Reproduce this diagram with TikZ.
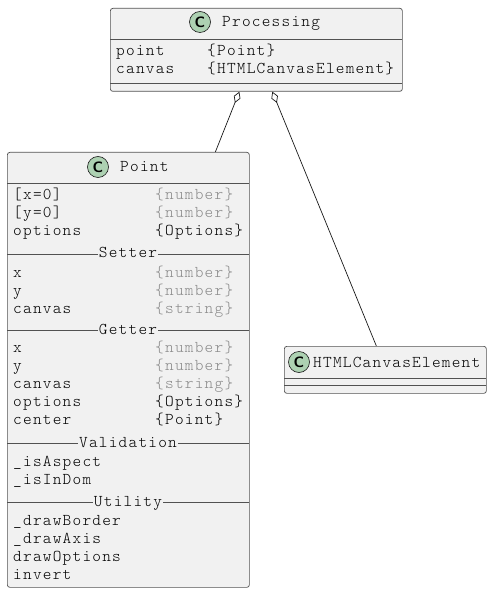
\documentclass[tikz,border=0pt]{standalone}
\usepackage{fontspec}
\usetikzlibrary{arrows.meta}

\newfontfamily\umlmono{lmmonolt10-regular.otf}[LetterSpace=7.5]

\definecolor{boxfill}{HTML}{F1F1F1}
\definecolor{boxline}{HTML}{181818}
\definecolor{badgefill}{HTML}{ADD1B2}
\definecolor{typegray}{HTML}{8A8A8A}

\newcommand\umlfont{\umlmono\fontsize{16.5}{18}\selectfont}

\tikzset{
  cls/.style={draw=boxline!75, fill=boxfill, rounded corners=2.5pt, line width=0.7pt,
    inner sep=0pt, anchor=north west},
  sep/.style={draw=boxline!75, line width=0.7pt},
  txt/.style={anchor=base west, inner sep=0pt, font=\umlfont, text=black},
  typ/.style={txt, text=typegray},
  sect/.style={anchor=base, inner sep=1.2pt, fill=boxfill, font=\umlfont},
  badge/.style={circle, draw=boxline, fill=badgefill, minimum size=21pt, inner sep=0pt,
    line width=0.6pt, font=\fontsize{15}{15}\selectfont\sffamily\bfseries},
  agg/.style={{Diamond[fill=white,length=12pt,width=7pt]}-, draw=boxline, line width=0.7pt},
}

\begin{document}
\begin{tikzpicture}[x=1pt,y=-1pt]
\useasboundingbox (0,0) rectangle (492,593);

% ---- class Processing ----
\node[cls, minimum width=292pt, minimum height=83pt] (proc) at (110,8) {};
\draw[sep] (110,39) -- (402,39);
\draw[sep] (110,83) -- (402,83);
\node[badge] (procbadge) at (200,22) {C};
\node[txt] (proctitle) at (222,27) {Processing};
\node[txt] (pa1) at (116,56) {point};
\node[txt] (pt1) at (207,56) {\{Point\}};
\node[txt] (pa2) at (116,74) {canvas};
\node[txt] (pt2) at (207,74) {\{HTMLCanvasElement\}};

% ---- class Point ----
\node[cls, minimum width=242pt, minimum height=435pt] (point) at (7,152) {};
\node[badge] (pointbadge) at (98,167) {C};
\node[txt] (pointtitle) at (120,172) {Point};
\draw[sep] (7,183) -- (249,183);
% constructor
\node[txt] (c1) at (13,200) {[x=0]};
\node[typ] (c1t) at (155,200) {\{number\}};
\node[txt] (c2) at (13,218) {[y=0]};
\node[typ] (c2t) at (155,218) {\{number\}};
\node[txt] (c3) at (13,236) {options};
\node[txt] (c3t) at (155,236) {\{Options\}};
% setters
\draw[sep] (7,254) -- (249,254);
\node[sect] (setter) at (128,258) {Setter};
\node[txt] (s1) at (13,277) {x};
\node[typ] (s1t) at (155,277) {\{number\}};
\node[txt] (s2) at (13,295) {y};
\node[typ] (s2t) at (155,295) {\{number\}};
\node[txt] (s3) at (13,313) {canvas};
\node[typ] (s3t) at (155,313) {\{string\}};
% getters
\draw[sep] (7,330) -- (249,330);
\node[sect] (getter) at (128,334) {Getter};
\node[txt] (g1) at (13,352) {x};
\node[typ] (g1t) at (155,352) {\{number\}};
\node[txt] (g2) at (13,370) {y};
\node[typ] (g2t) at (155,370) {\{number\}};
\node[txt] (g3) at (13,388) {canvas};
\node[typ] (g3t) at (155,388) {\{string\}};
\node[txt] (g4) at (13,406) {options};
\node[txt] (g4t) at (155,406) {\{Options\}};
\node[txt] (g5) at (13,424) {center};
\node[txt] (g5t) at (155,424) {\{Point\}};
% validation
\draw[sep] (7,443) -- (249,443);
\node[sect] (valid) at (128,447) {Validation};
\node[txt] (v1) at (13,466) {\_isAspect};
\node[txt] (v2) at (13,484) {\_isInDom};
% utility
\draw[sep] (7,502) -- (249,502);
\node[sect] (util) at (128,506) {Utility};
\node[txt] (u1) at (13,525) {\_drawBorder};
\node[txt] (u2) at (13,543) {\_drawAxis};
\node[txt] (u3) at (13,561) {drawOptions};
\node[txt] (u4) at (13,579) {invert};

% ---- class HTMLCanvasElement ----
\node[cls, minimum width=202pt, minimum height=47pt] (canvas) at (284,346) {};
\node[badge] (canvasbadge) at (299,362) {C};
\node[txt] (canvastitle) at (313,367) {HTMLCanvasElement};
\draw[sep] (284,378) -- (486,378);
\draw[sep] (284,385) -- (486,385);

% ---- aggregations ----
\draw[agg] ([xshift=-17pt]proc.south) -- ([xshift=87pt]point.north);
\draw[agg] ([xshift=16pt]proc.south) -- ([xshift=-9pt]canvas.north);
\end{tikzpicture}
\end{document}
